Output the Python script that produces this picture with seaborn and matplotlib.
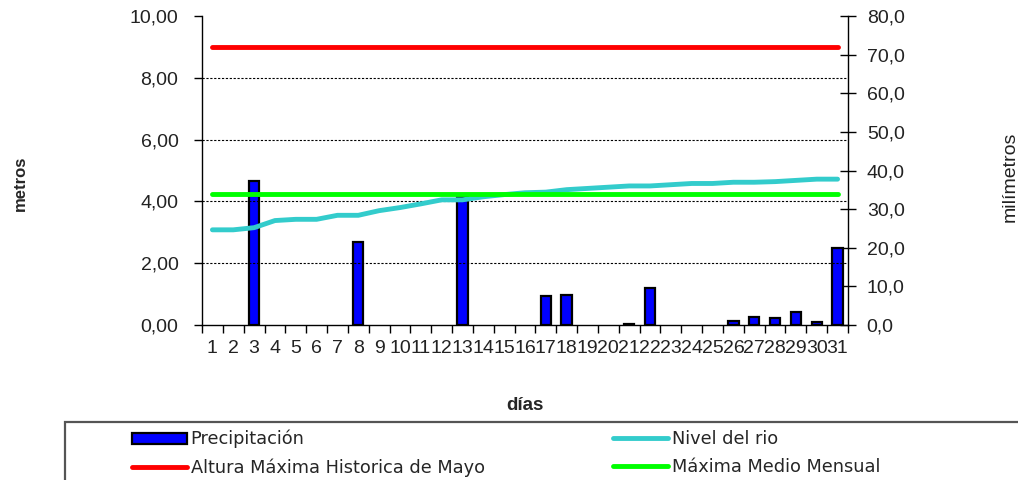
import numpy as np
import pandas as pd
import matplotlib
matplotlib.use("Agg")
import matplotlib.pyplot as plt
from matplotlib.patches import Rectangle, Patch
import seaborn as sns

# ---------------- data ----------------
days = list(range(1, 32))
precipitacion = [0, 0, 37.4, 0, 0, 0, 0, 21.4, 0, 0, 0, 0, 33.2, 0, 0, 0,
                 7.4, 7.8, 0, 0, 0.3, 9.5, 0, 0, 0, 1.1, 2.2, 1.8, 3.4, 0.8, 20.0]
nivel_rio = [3.08, 3.08, 3.15, 3.38, 3.42, 3.42, 3.55, 3.55, 3.70, 3.80, 3.92,
             4.05, 4.05, 4.15, 4.22, 4.28, 4.30, 4.38, 4.42, 4.46, 4.50, 4.50,
             4.54, 4.58, 4.58, 4.62, 4.62, 4.64, 4.68, 4.72, 4.72]
altura_max_mayo = [9.0] * 31
maxima_medio = [4.25] * 31

left_ticks = [0, 2, 4, 6, 8, 10]
left_labels = ["0,00", "2,00", "4,00", "6,00", "8,00", "10,00"]
right_ticks = [0, 10, 20, 30, 40, 50, 60, 70, 80]
right_labels = ["0,0", "10,0", "20,0", "30,0", "40,0", "50,0", "60,0", "70,0", "80,0"]

df = pd.DataFrame({"dia": days, "precip": precipitacion, "nivel": nivel_rio,
                   "altura": altura_max_mayo, "medio": maxima_medio})

# ---------------- figure ----------------
sns.set_style("white")
plt.rcParams["font.family"] = ["Liberation Sans", "DejaVu Sans"]

W, H = 1018, 480
fig = plt.figure(figsize=(W / 100, H / 100), dpi=100, facecolor="white")
x0, x1, y0, y1 = 202, 848, 16, 325
ax = fig.add_axes([x0 / W, 1 - y1 / H, (x1 - x0) / W, (y1 - y0) / H])
ax2 = ax.twinx()

BAR_COLOR = "#0000FF"
# bars on right axis (mm)
sns.barplot(data=df, x="dia", y="precip", native_scale=True, width=0.5,
            color=BAR_COLOR, saturation=1, edgecolor="black", linewidth=1.6,
            ax=ax2, legend=False)
for p in ax2.patches:
    if p.get_height() == 0:
        p.set_visible(False)

# lines on left axis (m)
sns.lineplot(data=df, x="dia", y="nivel", color="#33CCCC", linewidth=3.5,
             ax=ax, label="Nivel del rio", legend=False)
sns.lineplot(data=df, x="dia", y="altura", color="#FF0000", linewidth=3.5,
             ax=ax, label="Altura Máxima Historica de Mayo", legend=False)
sns.lineplot(data=df, x="dia", y="medio", color="#00FF00", linewidth=3.5,
             ax=ax, label="Máxima Medio Mensual", legend=False)

ax.set_zorder(ax2.get_zorder() + 1)
ax.patch.set_visible(False)

ax.set_xlim(0.5, 31.5)
ax.set_ylim(0, 10)
ax2.set_ylim(0, 80)

# ticks
ax.set_xticks(days)
ax.set_xticklabels([str(d) for d in days], fontsize=14, color="#222222")
ax.set_xticks(np.arange(0.5, 32, 1), minor=True)
ax.tick_params(axis="x", which="major", length=0, pad=11)
ax.tick_params(axis="x", which="minor", length=6, width=1, direction="out",
               color="black", bottom=True)
ax.set_yticks(left_ticks)
ax.set_yticklabels(left_labels, fontsize=14, color="#222222")
ax.tick_params(axis="y", which="major", length=6, width=1, direction="out",
               color="black", left=True, pad=11)
ax2.set_yticks(right_ticks)
ax2.set_yticklabels(right_labels, fontsize=14, color="#222222")
ax2.tick_params(axis="y", which="major", length=11, width=1, direction="inout",
                color="black", right=True, pad=8)

# grid
ax.grid(axis="y", linestyle=(0, (2, 1.5)), color="black", linewidth=0.8)
ax.grid(axis="x", visible=False)
ticks = ax.yaxis.get_major_ticks()
ticks[0].gridline.set_visible(False)
ticks[-1].gridline.set_visible(False)
ax2.grid(False)

# spines
for a in (ax, ax2):
    a.spines["top"].set_visible(False)
    for s in ("left", "right", "bottom"):
        a.spines[s].set_color("black")
        a.spines[s].set_linewidth(1.0)
ax.spines["right"].set_visible(False)
ax2.spines["left"].set_visible(False)
ax2.spines["bottom"].set_visible(False)

# labels
ax.set_xlabel("días", fontsize=13.5, fontweight="bold")
ax.xaxis.set_label_coords(0.5, (y1 - 397) / (y1 - y0))
ax.set_ylabel("metros", fontsize=12, fontweight="bold")
ax.yaxis.set_label_coords((28 - x0) / (x1 - x0), (y1 - 183) / (y1 - y0))
ax2.set_ylabel("milímetros", fontsize=14, fontweight="normal", color="#222222")
ax2.yaxis.set_label_coords((1002 - x0) / (x1 - x0), (y1 - 177) / (y1 - y0))

# legend frame
fig.patches.append(Rectangle((65 / W, -0.1), 1.2, (480 - 422) / H + 0.1,
                             transform=fig.transFigure, facecolor="white",
                             edgecolor="#555555", linewidth=1.6, zorder=0))

h2, l2 = ax.get_legend_handles_labels()
hd = dict(zip(l2, h2))
hd["Precipitación"] = Patch(facecolor=BAR_COLOR, edgecolor="black", linewidth=1.6)
legkw = dict(frameon=False, prop={"family": "DejaVu Sans", "size": 12.8},
             handlelength=3.1, handleheight=0.6, handletextpad=0.2,
             labelspacing=0.55, borderpad=0, borderaxespad=0, loc="upper left")
leg1 = fig.legend([hd["Precipitación"], hd["Altura Máxima Historica de Mayo"]],
                  ["Precipitación", "Altura Máxima Historica de Mayo"],
                  bbox_to_anchor=(132 / W, 1 - 430 / H), **legkw)
leg2 = fig.legend([hd["Nivel del rio"], hd["Máxima Medio Mensual"]],
                  ["Nivel del rio", "Máxima Medio Mensual"],
                  bbox_to_anchor=(613 / W, 1 - 430 / H), **legkw)

fig.savefig("out.png", dpi=100, facecolor="white")
